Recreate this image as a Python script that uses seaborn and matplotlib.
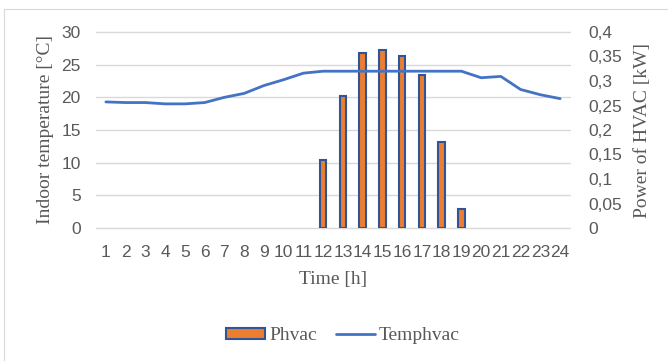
import numpy as np
import pandas as pd
import matplotlib
matplotlib.use("Agg")
import matplotlib.pyplot as plt
import matplotlib.transforms as mtransforms
from matplotlib.patches import Rectangle, Patch
from matplotlib.lines import Line2D
import seaborn as sns

# Hourly data
hours = list(range(1, 25))
temphvac = [19.3, 19.2, 19.2, 19.0, 19.0, 19.2, 20.0, 20.6, 21.8, 22.7, 23.7, 24.0,
            24.0, 24.0, 24.0, 24.0, 24.0, 24.0, 24.0, 23.0, 23.2, 21.2, 20.4, 19.8]
phvac = [0, 0, 0, 0, 0, 0, 0, 0, 0, 0, 0, 0.139,
         0.27, 0.357, 0.363, 0.351, 0.312, 0.175, 0.039, 0, 0, 0, 0, 0]
temp_ticks = [0, 5, 10, 15, 20, 25, 30]
power_ticks = [0, 0.05, 0.1, 0.15, 0.2, 0.25, 0.3, 0.35, 0.4]
power_ticklabels = ["0", "0,05", "0,1", "0,15", "0,2", "0,25", "0,3", "0,35", "0,4"]

df = pd.DataFrame({"hour": [str(h) for h in hours], "pos": range(len(hours)),
                   "Temphvac": temphvac, "Phvac": phvac})

sns.set_theme(style="white")
plt.rcParams["font.family"] = ["Liberation Sans", "DejaVu Sans"]

ORANGE = "#ED7D31"
EDGE = "#2F5597"
BLUE = "#4472C4"
GRID = "#D9D9D9"
TXT = "#595959"
serif = ["Liberation Serif", "DejaVu Serif"]

fig = plt.figure(figsize=(6.68, 3.61), dpi=100)
fig.patch.set_facecolor("white")
# chart frame
fig.add_artist(Rectangle((4 / 668, -0.1), 1.1, (361 - 9) / 361 + 0.1,
                         transform=fig.transFigure, fill=False,
                         edgecolor="#D9D9D9", linewidth=0.8))

ax = fig.add_axes([96 / 668, 1 - 228 / 361, 474 / 668, 196 / 361])
ax2 = ax.twinx()
ax2.set_zorder(ax.get_zorder() - 1)
ax.patch.set_visible(False)

# bars on the secondary (power) axis
sns.barplot(data=df, x="hour", y="Phvac", ax=ax2, color=ORANGE, width=0.32,
            saturation=1, edgecolor=EDGE, linewidth=1.5, zorder=2)
# hours with no HVAC power leave no visible bar outline
for p in ax2.patches:
    if p.get_height() == 0:
        p.set_visible(False)
ax2.set_ylim(0, 0.4)
ax2.set_yticks(power_ticks)
ax2.set_yticklabels(power_ticklabels)

# horizontal gridlines follow the temperature scale, drawn behind the bars
trans = mtransforms.blended_transform_factory(ax2.transAxes, ax.transData)
ax.set_ylim(0, 30)
for t in temp_ticks:
    ax2.plot([0, 1], [t, t], transform=trans, color=GRID, linewidth=1.0,
             zorder=0.5, clip_on=False)

# temperature line on the primary axis
sns.lineplot(data=df, x="pos", y="Temphvac", ax=ax, color=BLUE, linewidth=2.0,
             zorder=3)
ax.set_xlim(-0.5, len(hours) - 0.5)
ax2.set_xlim(-0.5, len(hours) - 0.5)
ax.set_yticks(temp_ticks)
ax.set_xticks(df["pos"])
ax.set_xticklabels(df["hour"])

for a in (ax, ax2):
    for s in a.spines.values():
        s.set_visible(False)
    a.tick_params(length=0, labelsize=12.5, colors=TXT)
ax.tick_params(axis="y", pad=11)
ax2.tick_params(axis="y", pad=13)
ax.tick_params(axis="x", pad=12)

ax.set_xlabel("Time [h]", fontfamily=serif, fontsize=14, color=TXT, labelpad=8)
ax.set_ylabel("Indoor temperature [°C]", fontfamily=serif, fontsize=14,
              color=TXT, labelpad=5)
ax2.set_ylabel("Power of HVAC [kW]", fontfamily=serif, fontsize=14,
               color=TXT, labelpad=9)
ax2.set_xlabel("")

handles = [Patch(facecolor=ORANGE, edgecolor=EDGE, linewidth=1.5),
           Line2D([], [], color=BLUE, linewidth=2.0)]
leg = fig.legend(handles, ["Phvac", "Temphvac"], loc="center",
                 bbox_to_anchor=(343 / 668, 1 - 336 / 361), ncol=2, frameon=False,
                 prop={"family": serif, "size": 14}, handlelength=2.0,
                 handleheight=0.55, handletextpad=0.2, columnspacing=1.0)
for t in leg.get_texts():
    t.set_color(TXT)

fig.savefig("out.png", dpi=100, facecolor="white")
